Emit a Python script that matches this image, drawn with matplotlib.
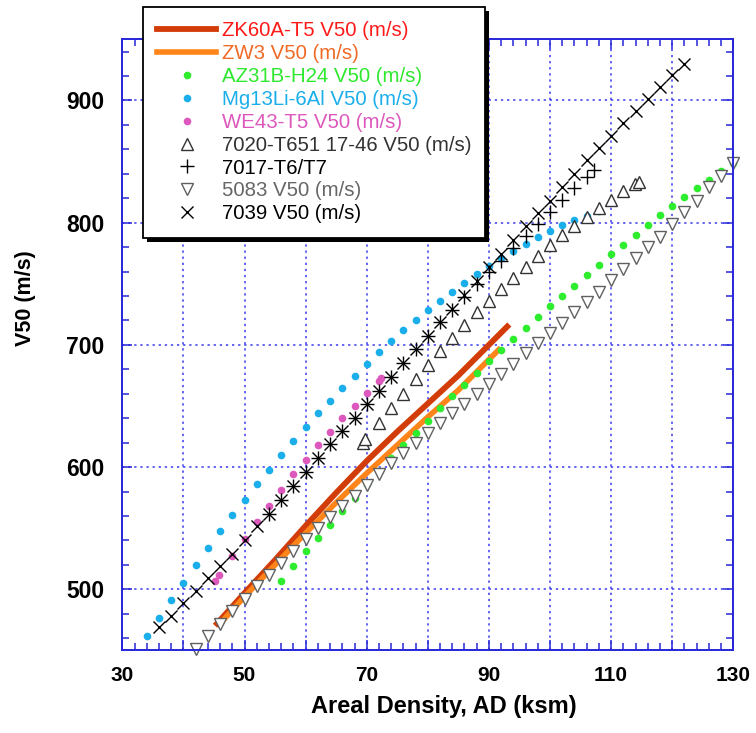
import matplotlib
matplotlib.use("Agg")
import matplotlib.pyplot as plt
from matplotlib.patches import Rectangle
from matplotlib.ticker import MultipleLocator, FuncFormatter

plt.rcParams['font.family'] = ['Liberation Sans', 'DejaVu Sans']

# ZK60A-T5 and ZW3 curves
zk_ad = [45.5, 50, 55, 60, 65, 70, 75, 80, 85, 90, 93]
zk_v = [472, 497, 524, 552, 579, 605, 629, 652, 675, 700, 715]
zw_ad = [46, 50, 55, 60, 65, 70, 75, 80, 85, 91.6]
zw_v = [472, 494, 520, 546, 571, 595, 618, 641, 663, 696]

# AZ31B-H24
az_ad = list(range(56, 131, 2))
az_v = [507, 519.5, 531, 542, 553, 564, 575, 586, 597, 607.5, 618, 628, 638,
        648, 658, 667.5, 677, 686.5, 696, 705, 714, 723, 732, 740, 748.5, 757,
        765.5, 774, 782, 790, 798, 806, 813.5, 821, 828, 835, 842, 849]

# Mg13Li-6Al
mg_ad = list(range(34, 109, 2))
mg_v = [461.5, 476.5, 491.5, 505.5, 520, 534, 547.5, 560.5, 573, 586, 598, 610,
        621.5, 633, 644, 654, 664.5, 674.5, 684, 694, 703, 712, 720, 728.5, 736,
        743.5, 751, 758, 764.5, 771, 777, 782.5, 788, 793, 798, 802, 805.5, 809.5]

# WE43-T5
we_ad = [45.2, 45.8, 48, 50, 52, 54, 56, 58, 60, 62, 64, 66, 68, 70, 72, 72.4]
we_v = [507, 511.5, 527, 541, 555, 568.5, 581.5, 594, 606, 618, 629, 640, 650,
        660.5, 670.5, 673]

# 7020-T651
t7020_ad = [69.4, 69.8, 72, 74, 76, 78, 80, 82, 84, 86, 88, 90, 92, 94, 96, 98,
            100, 102, 104, 106, 108, 110, 112, 113.9, 114.5]
t7020_v = [620, 623, 636, 648.5, 660, 672, 683.5, 695, 705.5, 716, 726.5, 736,
           746, 755, 764, 773, 781.5, 790, 797.5, 805, 812, 818.5, 825.5, 831.5, 833]

# 7017-T6/T7
t7017_ad = [54, 56, 58, 60, 62, 64, 66, 68, 70, 72, 74, 76, 78, 80, 82, 84, 86,
            88, 90, 92, 94, 96, 98, 100, 102, 104, 106, 107.2]
t7017_v = [562, 573.5, 584.5, 596, 607.5, 618.5, 629.5, 640.5, 651.5, 662.5, 674,
           685.5, 696.5, 707.5, 719, 728.5, 739, 750, 759.5, 769, 779, 789, 799,
           808.5, 818.5, 828, 837.5, 843]

# 5083
t5083_ad = list(range(42, 131, 2))
t5083_v = [451, 461.5, 471.5, 482.5, 492.5, 502.5, 512, 521.5, 531, 541, 550, 559,
           568, 576, 585.5, 594, 603, 611.5, 619.5, 628, 636, 644, 652, 660, 668,
           676, 684.5, 693, 701.5, 710, 718, 726.5, 735, 743.5, 753, 762, 771, 780,
           788.5, 799, 808.5, 818, 829, 838.5, 849]

# 7039
t7039_ad = list(range(36, 123, 2))
t7039_v = [469, 478.5, 489, 498.5, 509, 519.5, 529, 540.5, 551.5, 562, 573.5,
           584.5, 596, 607.5, 618.5, 629.5, 640.5, 651.5, 662.5, 674, 685.5, 696.5,
           707.5, 719, 729.5, 741, 752, 764, 774.5, 786, 797.5, 807.5, 818, 829.5,
           840, 851, 861, 871, 881.5, 891, 901, 911, 920.5, 929.5]

fig = plt.figure(figsize=(7.56, 7.33), dpi=100)
ax = fig.add_axes([0.1618, 0.1126, 0.8082, 0.8338])

ax.plot(zk_ad, zk_v, '-', color='#d23c08', lw=4.2, label='ZK60A-T5 V50 (m/s)', clip_on=False)
ax.plot(zw_ad, zw_v, '-', color='#ff8419', lw=4.0, label='ZW3 V50 (m/s)', clip_on=False)
ax.plot(az_ad, az_v, 'o', color='#2eec2e', ms=5.5, mew=0, label='AZ31B-H24 V50 (m/s)', clip_on=False)
ax.plot(mg_ad, mg_v, 'o', color='#1aaeea', ms=5.5, mew=0, label='Mg13Li-6Al V50 (m/s)', clip_on=False)
ax.plot(we_ad, we_v, 'o', color='#dc58bc', ms=5.5, mew=0, label='WE43-T5 V50 (m/s)', clip_on=False)
ax.plot(t7020_ad, t7020_v, '^', mfc='white', mec='#333333', mew=1.0, ms=8,
        label='7020-T651 17-46 V50 (m/s)', clip_on=False)
ax.plot(t7017_ad, t7017_v, '+', color='black', mew=1.0, ms=10, label='7017-T6/T7', clip_on=False)
ax.plot(t5083_ad, t5083_v, 'v', mfc='white', mec='#606060', mew=1.0, ms=8,
        label='5083 V50 (m/s)', clip_on=False)
ax.plot(t7039_ad, t7039_v, 'x', color='black', mew=1.0, ms=9, label='7039 V50 (m/s)', clip_on=False)

ax.set_xlim(30, 130)
ax.set_ylim(450, 950)
ax.xaxis.set_major_locator(MultipleLocator(10))
ax.xaxis.set_minor_locator(MultipleLocator(2))
ax.yaxis.set_major_locator(MultipleLocator(100))
ax.yaxis.set_minor_locator(MultipleLocator(20))
ax.xaxis.set_major_formatter(FuncFormatter(lambda v, p: '%d' % v if round(v - 30) % 20 == 0 else ''))

blue = '#2626d8'
for s in ax.spines.values():
    s.set_color(blue)
    s.set_linewidth(1.4)
ax.tick_params(which='both', direction='in', top=True, right=True, color=blue, width=1.1)
ax.tick_params(which='major', length=7)
ax.tick_params(which='minor', length=5)
ax.tick_params(axis='x', pad=11)
ax.tick_params(axis='y', pad=13)
for lab in ax.get_xticklabels():
    lab.set_fontsize(15)
    lab.set_fontweight('bold')
for lab in ax.get_yticklabels():
    lab.set_fontsize(16.5)
    lab.set_fontweight('bold')

ax.grid(True, which='major', color='#3a3af0', linestyle=(0, (1.5, 2.5)), lw=1.1)
ax.set_axisbelow(True)

fig.text(444 / 756, 1 - 706 / 733, 'Areal Density, AD (ksm)', fontsize=17, fontweight='bold',
         ha='center', va='center')
fig.text(26 / 756, 1 - 298 / 733, 'V50 (m/s)', fontsize=15.5, fontweight='bold',
         rotation=90, ha='center', va='center')

leg = ax.legend(loc='upper left', bbox_to_anchor=(143 / 756, 1 - 7 / 733),
                bbox_transform=fig.transFigure, borderaxespad=0, fontsize=14.7,
                frameon=True, fancybox=False, shadow=False,
                edgecolor='black', framealpha=1, labelspacing=0.19, borderpad=0.7,
                handlelength=2.9, handletextpad=0.25, numpoints=1)
leg.get_frame().set_linewidth(1.3)
text_colors = ['#ff1a1a', '#f06a26', '#2ee82e', '#1aaeea', '#dc58bc',
               '#333333', 'black', '#666666', 'black']
for t, c in zip(leg.get_texts(), text_colors):
    t.set_color(c)
leg.set_zorder(10)

# black drop shadow behind the legend box
fig.canvas.draw()
bb = leg.get_frame().get_window_extent()
shadow = Rectangle((bb.x0 + 4, bb.y0 - 4), bb.width, bb.height, transform=None,
                   facecolor='black', edgecolor='none', clip_on=False, zorder=9.9)
ax.add_artist(shadow)

fig.savefig('out.png', dpi=100)
